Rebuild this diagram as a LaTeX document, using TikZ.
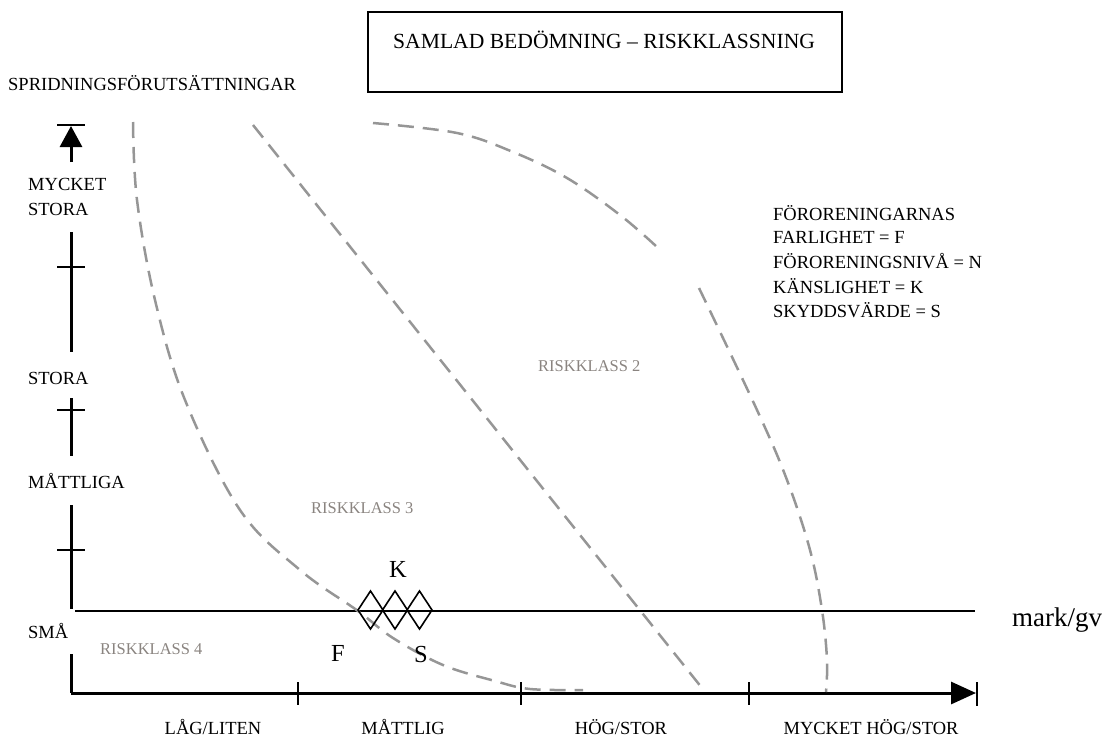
\documentclass[tikz,border=0pt]{standalone}
\usepackage{fontspec}
\setmainfont{Liberation Serif}
\usetikzlibrary{arrows.meta}
\definecolor{zonegray}{RGB}{150,150,150}
\definecolor{classgray}{RGB}{138,132,128}
\begin{document}
\begin{tikzpicture}[x=1pt,y=-1pt,
  axis/.style={line width=3pt},
  tickmark/.style={line width=2pt},
  zone/.style={zonegray,line width=2.5pt,dash pattern=on 16pt off 9pt},
  lbl/.style={inner sep=0pt,font=\fontsize{18.5}{25}\selectfont},
  legend/.style={inner sep=0pt,anchor=west,font=\fontsize{18.5}{20}\selectfont},
  riskclass/.style={inner sep=0pt,anchor=west,text=classgray,font=\fontsize{16.5}{18}\selectfont},
  letter/.style={inner sep=0pt,font=\fontsize{24.5}{26}\selectfont},
  rhomb/.style={line width=1.6pt,line join=miter}]
\useasboundingbox (0,0) rectangle (1110,747);

% title box
\draw[line width=1.5pt] (368,12) rectangle (842,92);
\node[inner sep=0pt,anchor=west,font=\fontsize{21.6}{24}\selectfont] (title) at (393,40) {SAMLAD BEDÖMNING – RISKKLASSNING};

% vertical axis: spreading conditions
\node[lbl,anchor=west] (yname) at (8,83) {SPRIDNINGSFÖRUTSÄTTNINGAR};
\draw[tickmark] (57,125) -- (85,125);
\draw[axis,-{Triangle[length=21pt,width=22pt]}] (71,162) -- (71,126);
\node[lbl,anchor=west,align=left] (ylvl4) at (28,197) {MYCKET\\STORA};
\draw[axis] (71,232) -- (71,352);
\draw[tickmark] (57,267) -- (85,267);
\node[lbl,anchor=west] (ylvl3) at (28,378) {STORA};
\draw[axis] (71,398) -- (71,456);
\draw[tickmark] (57,410) -- (85,410);
\node[lbl,anchor=west] (ylvl2) at (28,481) {MÅTTLIGA};
\draw[axis] (71,505) -- (71,609);
\draw[tickmark] (57,550) -- (85,550);
\node[lbl,anchor=west] (ylvl1) at (28,631) {SMÅ};
\draw[axis] (71,654) -- (71,693);

% soil/groundwater line
\draw[line width=2pt] (75,611) -- (975,611);
\node[inner sep=0pt,anchor=west,font=\fontsize{27}{29}\selectfont] (medium) at (1012,620) {mark/gv};

% horizontal axis
\draw[axis,-{Triangle[length=25pt,width=22pt]}] (71,693) -- (976,693);
\draw[tickmark] (977,682) -- (977,706);
\foreach \x in {298,521,749} \draw[tickmark] (\x,682) -- (\x,705);
\node[lbl] (xlvl1) at (213,727) {LÅG/LITEN};
\node[lbl] (xlvl2) at (403,727) {MÅTTLIG};
\node[lbl] (xlvl3) at (621,727) {HÖG/STOR};
\node[lbl] (xlvl4) at (871,727) {MYCKET HÖG/STOR};

% risk zone boundaries
\draw[zone] plot[smooth,tension=0.6] coordinates {(133,122) (137,200) (155,300) (185,400) (240,510) (300,570) (358,611) (393,638) (443,665) (495,681) (530,689) (583,690)};
\draw[zone] (253,125) -- (702,688);
\draw[zone] plot[smooth,tension=0.6] coordinates {(373,123) (457,133) (513,152) (567,178) (620,215) (657,247)};
\draw[zone] plot[smooth,tension=0.6] coordinates {(699,288) (757,410) (787,480) (810,550) (822,610) (827,660) (826,692)};

% risk classes
\node[riskclass] (rk4) at (100,649) {RISKKLASS 4};
\node[riskclass] (rk3) at (311,508) {RISKKLASS 3};
\node[riskclass] (rk2) at (538,366) {RISKKLASS 2};

% assessment marker: F, K, S diamonds
\foreach \c in {370.5,395,419.5}
  \draw[rhomb] (\c-12.5,610) -- (\c,591) -- (\c+12.5,610) -- (\c,629) -- cycle;
\node[letter] (k) at (398,569) {K};
\node[letter] (f) at (338,653) {F};
\node[letter] (s) at (421,654) {S};

% legend
\node[legend] (lg1) at (773,213) {FÖRORENINGARNAS};
\node[legend] (lg2) at (773,237) {FARLIGHET = F};
\node[legend] (lg3) at (773,261) {FÖRORENINGSNIVÅ = N};
\node[legend] (lg4) at (773,286) {KÄNSLIGHET = K};
\node[legend] (lg5) at (773,310) {SKYDDSVÄRDE = S};
\end{tikzpicture}
\end{document}
